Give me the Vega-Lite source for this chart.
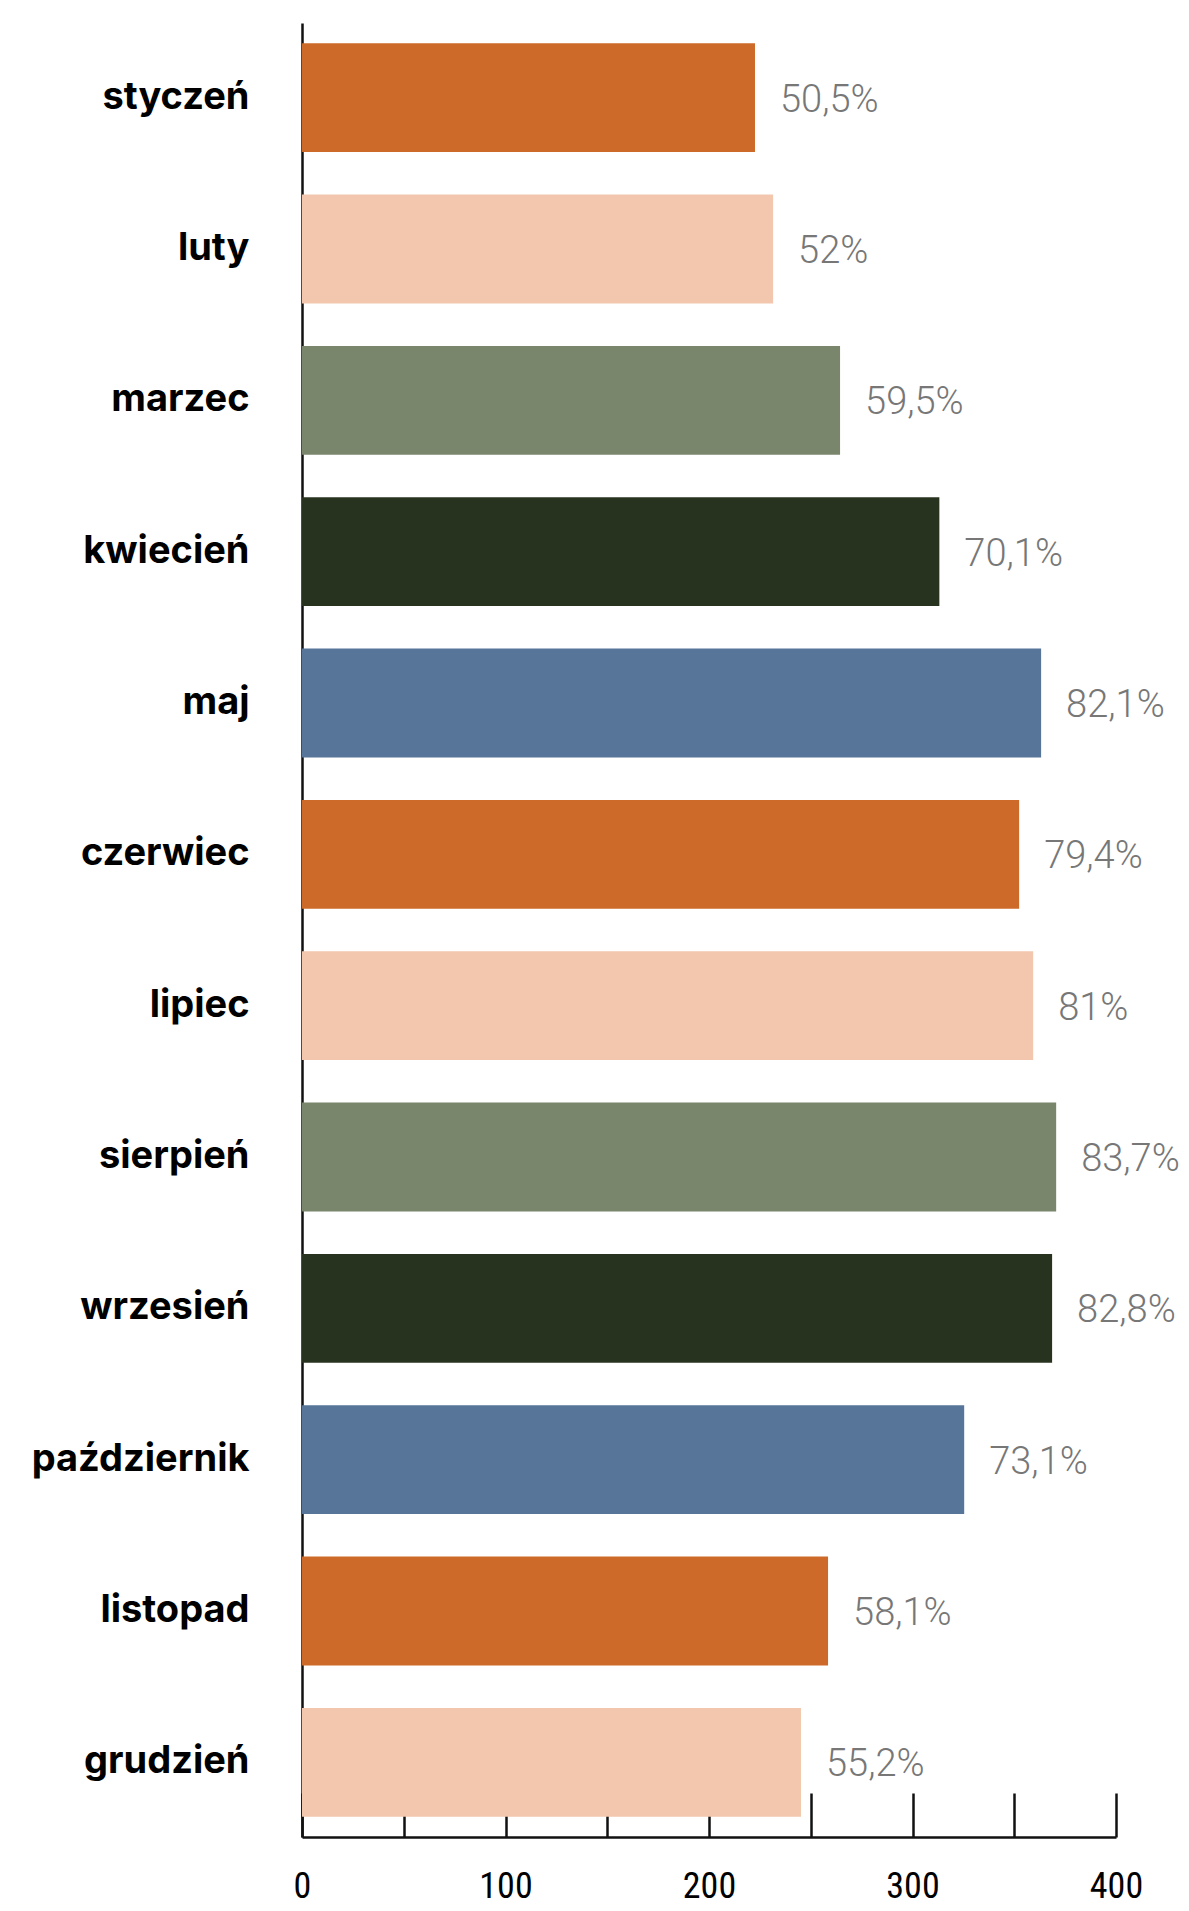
{
  "$schema": "https://vega.github.io/schema/vega-lite/v6.json",
  "autosize": "none",
  "padding": {"left": 302, "top": 23, "right": 73, "bottom": 74},
  "width": 814,
  "height": 1814,
  "background": "white",
  "data": {
    "values": [
      {"month": "styczeń", "value": 222.6, "label": "50,5%"},
      {"month": "luty", "value": 231.5, "label": "52%"},
      {"month": "marzec", "value": 264.4, "label": "59,5%"},
      {"month": "kwiecień", "value": 313.2, "label": "70,1%"},
      {"month": "maj", "value": 363.2, "label": "82,1%"},
      {"month": "czerwiec", "value": 352.4, "label": "79,4%"},
      {"month": "lipiec", "value": 359.3, "label": "81%"},
      {"month": "sierpień", "value": 370.6, "label": "83,7%"},
      {"month": "wrzesień", "value": 368.6, "label": "82,8%"},
      {"month": "październik", "value": 325.4, "label": "73,1%"},
      {"month": "listopad", "value": 258.5, "label": "58,1%"},
      {"month": "grudzień", "value": 245.2, "label": "55,2%"}
    ]
  },
  "encoding": {
    "y": {
      "field": "month",
      "type": "nominal",
      "sort": null,
      "title": null,
      "scale": {"paddingInner": 0.281, "paddingOuter": 0.134},
      "axis": {
        "domainColor": "#111111",
        "domainWidth": 2.5,
        "tickColor": "#111111",
        "tickWidth": 2.5,
        "tickSize": -19,
        "labelPadding": 72,
        "labelLimit": 0,
        "labelFont": "Inter",
        "labelFontWeight": 700,
        "labelFontSize": 38,
        "labelColor": "#000000",
        "labelAlign": "right",
        "labelBaseline": "middle"
      }
    }
  },
  "layer": [
    {
      "mark": {"type": "bar"},
      "encoding": {
        "x": {
          "field": "value",
          "type": "quantitative",
          "title": null,
          "scale": {"domain": [0, 400], "nice": false},
          "axis": {
            "values": [0, 50, 100, 150, 200, 250, 300, 350, 400],
            "labelExpr": "datum.value % 100 === 0 ? datum.label : ''",
            "grid": false,
            "domainColor": "#111111",
            "domainWidth": 2.5,
            "tickColor": "#111111",
            "tickWidth": 2.5,
            "tickSize": -44,
            "labelPadding": 93,
            "labelFont": "Roboto Condensed, DejaVu Sans Condensed, Roboto",
            "labelFontSize": 36,
            "labelColor": "#000000",
            "labelBaseline": "middle",
            "labelFlush": false
          }
        },
        "color": {
          "field": "month",
          "type": "nominal",
          "sort": null,
          "legend": null,
          "scale": {
            "domain": ["styczeń", "luty", "marzec", "kwiecień", "maj", "czerwiec", "lipiec", "sierpień", "wrzesień", "październik", "listopad", "grudzień"],
            "range": ["#CD6A29", "#F2C7AD", "#79866B", "#28331F", "#567598", "#CD6A29", "#F2C7AD", "#79866B", "#28331F", "#567598", "#CD6A29", "#F2C7AD"]
          }
        }
      }
    },
    {
      "mark": {
        "type": "text",
        "align": "left",
        "baseline": "middle",
        "dx": 25,
        "dy": 3,
        "font": "Roboto",
        "fontWeight": 300,
        "fontSize": 38,
        "color": "#777777"
      },
      "encoding": {
        "x": {"field": "value", "type": "quantitative"},
        "text": {"field": "label"}
      }
    }
  ],
  "config": {
    "view": {"stroke": null}
  }
}
